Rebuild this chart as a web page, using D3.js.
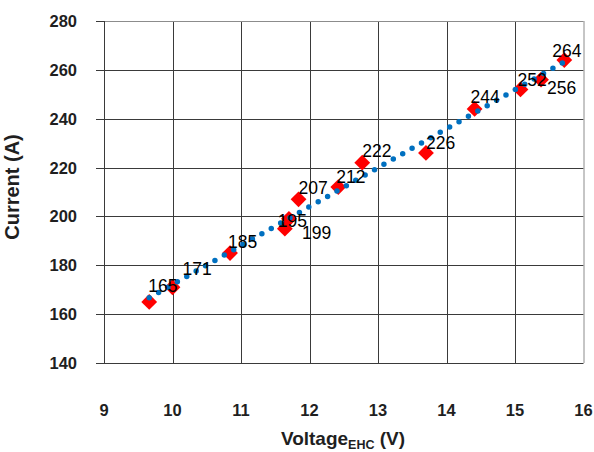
<!DOCTYPE html>
<html>
<head>
<meta charset="utf-8">
<script src="https://cdn.jsdelivr.net/npm/d3@7/dist/d3.min.js"></script>
<style>
	body { margin: 0; background: #fff; }
	svg { display: block; font-family: Arial, "Liberation Sans", sans-serif; }
</style>
</head>
<body>
<div id="chart"></div>
<script>
//	Values
var voltage = [9.66, 10.0, 10.84, 11.64, 11.70, 11.84, 12.42, 12.77, 13.70, 14.41, 15.08, 15.38, 15.72];
var current = [165, 171, 185, 195, 199, 207, 212, 222, 226, 244, 252, 256, 264];
var xTicks = [9, 10, 11, 12, 13, 14, 15, 16];
var yTicks = [140, 160, 180, 200, 220, 240, 260, 280];

//	Where each label sits relative to its point (moved by hand in the original)
var labelDx = [-1, 10, -2, -7, 13, 0, -2, 0, 0, -4, -3, 6, -12];
var labelDy = [-10, -12, -5, -2, 20, -5, -4, -6, -4, -6, -3, 14, -3];

drawChart();

function drawChart() {
	var W = 594, H = 452;
	var left = 104, right = 583.5, top = 21, bottom = 363;

	var svg = d3.select("#chart")
		.append("svg")
		.attr("width", W)
		.attr("height", H);

	var x = d3.scaleLinear().domain([9, 16]).range([left, right]);
	var y = d3.scaleLinear().domain([140, 280]).range([bottom, top]);

	//	Grid
	svg.append("g")
		.selectAll("line")
		.data(xTicks.slice(1, -1))
		.enter().append("line")
		.attr("x1", function(d) { return Math.round(x(d)) + 0.5; })
		.attr("x2", function(d) { return Math.round(x(d)) + 0.5; })
		.attr("y1", top)
		.attr("y2", bottom)
		.attr("stroke", "#3a3a3a")
		.attr("stroke-width", 1);

	svg.append("g")
		.selectAll("line")
		.data(yTicks.slice(1, -1))
		.enter().append("line")
		.attr("x1", left - 8)
		.attr("x2", right)
		.attr("y1", function(d) { return Math.round(y(d)) + 0.5; })
		.attr("y2", function(d) { return Math.round(y(d)) + 0.5; })
		.attr("stroke", "#3a3a3a")
		.attr("stroke-width", 1);

	//	Frame: top and right are lighter
	svg.append("line")
		.attr("x1", left).attr("x2", right)
		.attr("y1", top + 0.5).attr("y2", top + 0.5)
		.attr("stroke", "#8c8c8c");
	svg.append("line")
		.attr("x1", left - 8).attr("x2", left)
		.attr("y1", top + 0.5).attr("y2", top + 0.5)
		.attr("stroke", "#3a3a3a");
	svg.append("line")
		.attr("x1", right + 0.5).attr("x2", right + 0.5)
		.attr("y1", top).attr("y2", bottom)
		.attr("stroke", "#8c8c8c");
	svg.append("line")
		.attr("x1", left - 8).attr("x2", right)
		.attr("y1", bottom + 0.5).attr("y2", bottom + 0.5)
		.attr("stroke", "#3a3a3a");
	svg.append("line")
		.attr("x1", left + 0.5).attr("x2", left + 0.5)
		.attr("y1", top).attr("y2", bottom)
		.attr("stroke", "#3a3a3a");

	//	Tick labels
	svg.append("g")
		.selectAll("text")
		.data(yTicks)
		.enter().append("text")
		.attr("x", 77)
		.attr("y", function(d) { return y(d) + 6; })
		.attr("text-anchor", "end")
		.attr("font-size", 16.5)
		.attr("font-weight", "bold")
		.attr("fill", "#1f1f1f")
		.text(function(d) { return d; });

	svg.append("g")
		.selectAll("text")
		.data(xTicks)
		.enter().append("text")
		.attr("x", function(d) { return x(d); })
		.attr("y", 416)
		.attr("text-anchor", "middle")
		.attr("font-size", 16.5)
		.attr("font-weight", "bold")
		.attr("fill", "#1f1f1f")
		.text(function(d) { return d; });

	//	Axis titles
	var xt = svg.append("text")
		.attr("x", 343)
		.attr("y", 445)
		.attr("text-anchor", "middle")
		.attr("font-size", 19)
		.attr("font-weight", "bold")
		.attr("fill", "#1f1f1f");
	xt.append("tspan").text("Voltage");
	xt.append("tspan").attr("font-size", 12.5).attr("dy", 4).text("EHC");
	xt.append("tspan").attr("dy", -4).text(" (V)");

	svg.append("text")
		.attr("transform", "translate(19," + 187 + ") rotate(-90)")
		.attr("text-anchor", "middle")
		.attr("font-size", 20)
		.attr("font-weight", "bold")
		.attr("fill", "#1f1f1f")
		.text("Current (A)");

	//	Points
	var pts = voltage.map(function(v, i) { return [v, current[i]]; });

	svg.append("g")
		.selectAll("path")
		.data(pts)
		.enter().append("path")
		.attr("d", d3.symbol().type(d3.symbolSquare).size(125))
		.attr("transform", function(d) {
			return "translate(" + x(d[0]) + "," + y(d[1]) + ") rotate(45)";
		})
		.attr("fill", "#ff0000");

	//	Linear trendline
	var mx = d3.mean(voltage), my = d3.mean(current);
	var sxy = d3.sum(pts, function(d) { return (d[0] - mx) * (d[1] - my); });
	var sxx = d3.sum(voltage, function(v) { return (v - mx) * (v - mx); });
	var slope = sxy / sxx, icpt = my - slope * mx;
	var x0 = d3.min(voltage), x1 = d3.max(voltage);

	svg.append("line")
		.attr("x1", x(x0)).attr("y1", y(icpt + slope * x0))
		.attr("x2", x(x1)).attr("y2", y(icpt + slope * x1))
		.attr("stroke", "#0070c0")
		.attr("stroke-width", 5.5)
		.attr("stroke-linecap", "round")
		.attr("stroke-dasharray", "0,10.8");

	//	Data labels
	svg.append("g")
		.selectAll("text")
		.data(pts)
		.enter().append("text")
		.attr("x", function(d, i) { return x(d[0]) + labelDx[i]; })
		.attr("y", function(d, i) { return y(d[1]) + labelDy[i]; })
		.attr("font-size", 17.5)
		.attr("fill", "#000")
		.text(function(d) { return d[1]; });
}
</script>
</body>
</html>
